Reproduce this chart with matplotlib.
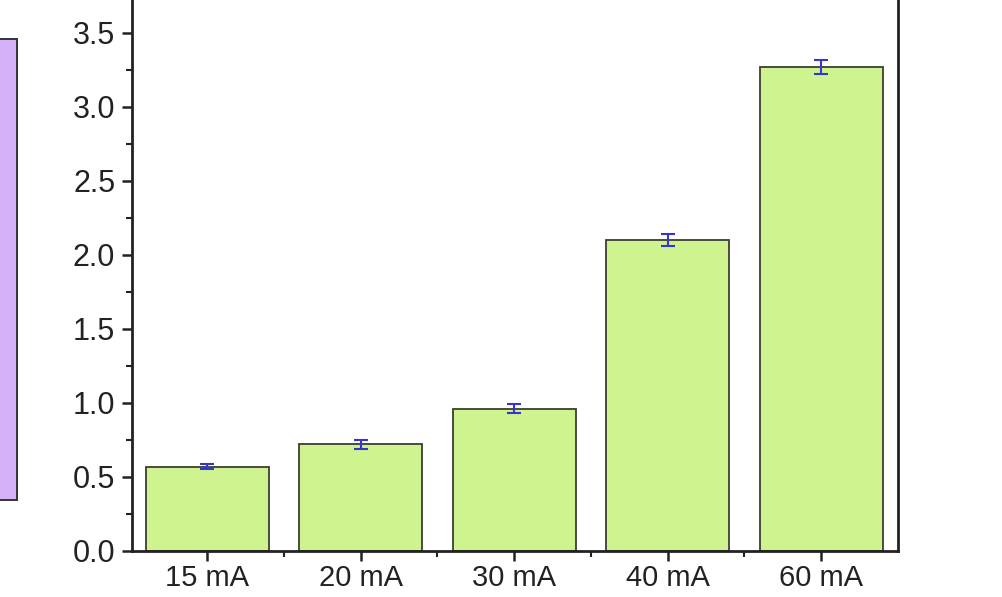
import matplotlib
matplotlib.use("Agg")
import matplotlib.pyplot as plt
from matplotlib.patches import Rectangle
from matplotlib.ticker import MultipleLocator, FixedLocator, FormatStrFormatter

categories = ["15 mA", "20 mA", "30 mA", "40 mA", "60 mA"]
values = [0.57, 0.72, 0.96, 2.10, 3.27]
errors = [0.015, 0.03, 0.03, 0.04, 0.05]

plt.rcParams["font.family"] = ["Liberation Sans", "DejaVu Sans"]

fig = plt.figure(figsize=(10.02, 5.97), dpi=100)

# Partial panel on the left edge
fig.patches.append(Rectangle((-0.01, 1 - 500 / 597), 27 / 1002, (500 - 39) / 597,
                             transform=fig.transFigure, facecolor="#d4b0f8",
                             edgecolor="#333333", linewidth=1.4))

ax = fig.add_axes([132 / 1002, 1 - 551 / 597, (898 - 132) / 1002, 551 / 597])
x = list(range(len(categories)))
ax.bar(x, values, width=0.8, color="#cff48f", edgecolor="#3a3f32", linewidth=1.3,
       zorder=2)
ax.errorbar(x, values, yerr=errors, fmt="none", ecolor="#3535d0", elinewidth=1.5,
            capsize=5, capthick=1.5, zorder=3)

ax.set_xlim(-0.49, 4.5)
ax.set_ylim(0, 551 / 148)
ax.set_xticks(x)
ax.set_xticklabels(categories)
ax.xaxis.set_minor_locator(FixedLocator([0.5, 1.5, 2.5, 3.5]))
ax.yaxis.set_major_locator(MultipleLocator(0.5))
ax.yaxis.set_minor_locator(MultipleLocator(0.25))
ax.yaxis.set_major_formatter(FormatStrFormatter("%.1f"))

ax.spines["top"].set_visible(False)
for s in ("left", "right", "bottom"):
    ax.spines[s].set_linewidth(2)
    ax.spines[s].set_color("#222222")
ax.tick_params(axis="both", which="major", direction="out", length=7, width=1.8,
               labelsize=22, colors="#222222")
ax.tick_params(axis="x", which="major", pad=2, labelsize=21)
ax.tick_params(axis="y", which="major", pad=5)
ax.tick_params(axis="both", which="minor", direction="out", length=4.5, width=1.5,
               colors="#222222")
ax.tick_params(axis="y", which="both", right=False)

fig.savefig("out.png", dpi=100)
